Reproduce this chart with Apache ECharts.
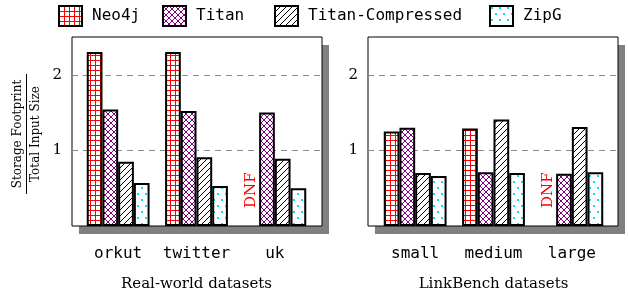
<!DOCTYPE html>
<html>
<head>
<meta charset="utf-8">
<script src="https://cdn.jsdelivr.net/npm/echarts@6/dist/echarts.min.js"></script>
<style>
  html, body { margin: 0; padding: 0; background: #fff; }
  #main { width: 628px; height: 293px; }
</style>
</head>
<body>
<div id="main"></div>
<script>
var seriesNames = ['Neo4j', 'Titan', 'Titan-Compressed', 'ZipG'];
var realCats = ['orkut', 'twitter', 'uk'];
var benchCats = ['small', 'medium', 'large'];
// storage footprint / input size, null = DNF
var realNeo4j = [2.30, 2.30, null];
var realTitan = [1.54, 1.52, 1.50];
var realTitanComp = [0.85, 0.91, 0.89];
var realZipG = [0.57, 0.53, 0.50];
var benchNeo4j = [1.25, 1.29, null];
var benchTitan = [1.30, 0.71, 0.69];
var benchTitanComp = [0.70, 1.41, 1.31];
var benchZipG = [0.66, 0.70, 0.71];
var yTicks = [1, 2];

function makePattern(w, h, draw) {
    var c = document.createElement('canvas');
    c.width = w;
    c.height = h;
    var ctx = c.getContext('2d');
    ctx.fillStyle = '#fff';
    ctx.fillRect(0, 0, w, h);
    draw(ctx);
    return { image: c, repeat: 'repeat' };
}

var patterns = [
    makePattern(5, 5, function (ctx) {
        ctx.fillStyle = '#f00';
        ctx.fillRect(0, 0, 5, 1);
        ctx.fillRect(0, 0, 1, 5);
    }),
    makePattern(6, 6, function (ctx) {
        ctx.fillStyle = '#800080';
        for (var i = 0; i < 6; i++) {
            ctx.fillRect(i, i, 1, 1);
            ctx.fillRect(i, 5 - i, 1, 1);
        }
    }),
    makePattern(6, 6, function (ctx) {
        ctx.fillStyle = '#000';
        for (var i = 0; i < 6; i++) {
            ctx.fillRect(i, 5 - i, 1, 1);
        }
    }),
    makePattern(8, 12, function (ctx) {
        ctx.fillStyle = '#00e0ee';
        ctx.fillRect(1, 1, 2, 2);
        ctx.fillRect(5, 7, 2, 2);
    })
];

function toData(arr) {
    return arr.map(function (v) {
        if (v !== null) return v;
        return {
            value: 0,
            itemStyle: { color: 'transparent', borderWidth: 0 },
            label: {
                show: true,
                formatter: 'DNF',
                position: 'insideBottom',
                distance: 18,
                rotate: 90,
                align: 'left',
                verticalAlign: 'middle',
                color: '#f00',
                fontFamily: 'DejaVu Serif',
                fontSize: 15
            }
        };
    });
}

function barSeries(name, idx, axis, values) {
    return {
        name: name,
        type: 'bar',
        xAxisIndex: axis,
        yAxisIndex: axis,
        barWidth: 15.7,
        barGap: '0%',
        itemStyle: { color: patterns[idx], borderColor: '#000', borderWidth: 2 },
        data: toData(values)
    };
}

function frameYAxis(grid) {
    return {
        gridIndex: grid,
        type: 'value',
        min: 0,
        max: 2.5,
        interval: 1,
        axisLine: { show: false },
        axisTick: { show: false },
        axisLabel: {
            margin: 10,
            fontFamily: 'DejaVu Serif',
            fontSize: 15,
            color: '#000',
            formatter: function (v) {
                return yTicks.indexOf(v) >= 0 ? String(v) : '';
            }
        },
        splitLine: {
            show: true,
            showMinLine: false,
            showMaxLine: false,
            lineStyle: { color: '#8c8c8c', type: [6, 5], width: 1 }
        }
    };
}

function catXAxis(grid, cats, title) {
    return {
        gridIndex: grid,
        type: 'category',
        data: cats,
        axisLine: { show: false },
        axisTick: { show: false },
        axisLabel: {
            interval: 0,
            margin: 20,
            fontFamily: 'DejaVu Sans Mono',
            fontSize: 16,
            color: '#000'
        },
        name: title,
        nameLocation: 'middle',
        nameGap: 51,
        nameTextStyle: { fontFamily: 'DejaVu Serif', fontSize: 15, color: '#000' }
    };
}

function hiddenX(grid) {
    return { gridIndex: grid, type: 'value', show: false };
}
function hiddenY(grid) {
    return { gridIndex: grid, type: 'value', min: 0, max: 2.5, show: false };
}

function panelGrid(left, withShadow) {
    var g = { left: left, top: 37, width: 250, height: 189, show: true, outerBoundsMode: 'none' };
    if (withShadow) {
        g.backgroundColor = '#fff';
        g.borderWidth = 0;
        g.shadowColor = '#808080';
        g.shadowBlur = 0;
        g.shadowOffsetX = 7;
        g.shadowOffsetY = 8;
    } else {
        g.backgroundColor = 'transparent';
        g.borderColor = '#000';
        g.borderWidth = 1;
    }
    return g;
}

var legendLeft = [58, 162, 274, 489];

var myChart = echarts.init(document.getElementById('main'));

var option = {
    animation: false,
    legend: seriesNames.map(function (n, i) {
        return {
            data: [n],
            left: legendLeft[i],
            top: 5,
            padding: 0,
            icon: 'rect',
            itemWidth: 23,
            itemHeight: 20,
            selectedMode: false,
            itemStyle: { borderColor: '#000', borderWidth: 2 },
            textStyle: {
                fontFamily: 'DejaVu Sans Mono',
                fontSize: 16,
                color: '#000',
                padding: [0, 0, 0, 5]
            }
        };
    }),
    grid: [
        // 0,1: white panels with drop shadow
        panelGrid(72, true),
        panelGrid(368, true),
        // 2,3: bars
        { left: 79, top: 37, width: 235, height: 189, outerBoundsMode: 'none' },
        { left: 376, top: 37, width: 235, height: 189, outerBoundsMode: 'none' },
        // 4,5: panel borders
        panelGrid(72, false),
        panelGrid(368, false)
    ],
    xAxis: [
        hiddenX(0),
        hiddenX(1),
        catXAxis(2, realCats, 'Real-world datasets'),
        catXAxis(3, benchCats, 'LinkBench datasets'),
        hiddenX(4),
        hiddenX(5)
    ],
    yAxis: [
        frameYAxis(0),
        frameYAxis(1),
        hiddenY(2),
        hiddenY(3),
        hiddenY(4),
        hiddenY(5)
    ],
    graphic: [
        {
            type: 'group',
            x: 26.5,
            y: 134,
            rotation: Math.PI / 2,
            children: [
                { type: 'text', x: 0, y: -9,
                  style: { text: 'Storage Footprint', fontFamily: 'DejaVu Serif', fontSize: 12,
                           fill: '#000', align: 'center', verticalAlign: 'middle' } },
                { type: 'line', shape: { x1: -60, y1: 0, x2: 60, y2: 0 },
                  style: { stroke: '#000', lineWidth: 1 } },
                { type: 'text', x: 0, y: 9,
                  style: { text: 'Total Input Size', fontFamily: 'DejaVu Serif', fontSize: 12,
                           fill: '#000', align: 'center', verticalAlign: 'middle' } }
            ]
        }
    ],
    series: [
        barSeries('Neo4j', 0, 2, realNeo4j),
        barSeries('Titan', 1, 2, realTitan),
        barSeries('Titan-Compressed', 2, 2, realTitanComp),
        barSeries('ZipG', 3, 2, realZipG),
        barSeries('Neo4j', 0, 3, benchNeo4j),
        barSeries('Titan', 1, 3, benchTitan),
        barSeries('Titan-Compressed', 2, 3, benchTitanComp),
        barSeries('ZipG', 3, 3, benchZipG)
    ]
};
myChart.setOption(option);
</script>
</body>
</html>
